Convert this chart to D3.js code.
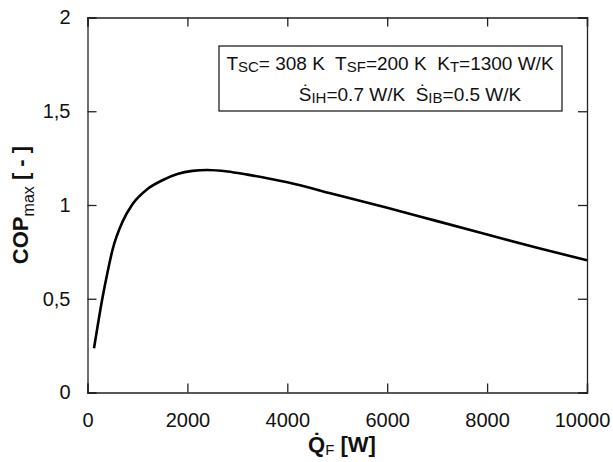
<!DOCTYPE html>
<html><head><meta charset="utf-8">
<script src="https://cdn.jsdelivr.net/npm/d3@7"></script>
<style>html,body{margin:0;padding:0;background:#fff;}svg{display:block;font-family:"Liberation Sans",Arial,sans-serif;}</style>
</head><body>
<script>
const heatLoad = [130, 200, 300, 400, 500, 700, 900, 1200, 1500, 1800, 2100, 2400, 2800, 3200, 3600, 4000, 5000, 6000, 7000, 8000, 9000, 10000];
const copMax   = [0.236, 0.35, 0.505, 0.64, 0.76, 0.91, 1.004, 1.085, 1.132, 1.165, 1.182, 1.187, 1.179, 1.162, 1.143, 1.121, 1.053, 0.985, 0.914, 0.843, 0.772, 0.705];
const xTicks = [0, 2000, 4000, 6000, 8000, 10000];
const yTicks = [0, 0.5, 1, 1.5, 2];
const yTickLabels = ["0", "0,5", "1", "1,5", "2"];

const W = 613, H = 462;
const m = {left: 87.5, right: 26, top: 17.5, bottom: 69.5};
const svg = d3.select("body").append("svg").attr("width", W).attr("height", H);
const x = d3.scaleLinear().domain([0, 10000]).range([m.left, W - m.right]);
const y = d3.scaleLinear().domain([0, 2]).range([H - m.bottom, m.top]);
const TL = 9;

const gx = svg.append("g").attr("transform", `translate(0,${y(0)})`)
  .call(d3.axisBottom(x).tickValues(xTicks).tickSize(-TL).tickPadding(TL + 11).tickFormat(d3.format("d")));
const gxt = svg.append("g").attr("transform", `translate(0,${y(2)})`)
  .call(d3.axisTop(x).tickValues(xTicks).tickSize(-TL).tickFormat(""));
const gy = svg.append("g").attr("transform", `translate(${x(0)},0)`)
  .call(d3.axisLeft(y).tickValues(yTicks).tickSize(-TL).tickPadding(TL + 8).tickFormat((d, i) => yTickLabels[i]));
const gyr = svg.append("g").attr("transform", `translate(${x(10000)},0)`)
  .call(d3.axisRight(y).tickValues(yTicks).tickSize(-TL).tickFormat(""));
[gx, gxt, gy, gyr].forEach(g => {
  g.select(".domain").attr("stroke", "#222").attr("stroke-width", 1.3);
  g.selectAll(".tick line").attr("stroke", "#222").attr("stroke-width", 1.3);
  g.selectAll("text").attr("font-size", 20).attr("fill", "#111").attr("font-family", "Liberation Sans, Arial, sans-serif");
});
gx.selectAll(".tick text").attr("dy", "0.71em").filter(d => d === 10000).attr("dx", -5);

svg.append("path")
  .datum(heatLoad.map((q, i) => [q, copMax[i]]))
  .attr("fill", "none").attr("stroke", "#000").attr("stroke-width", 2.6)
  .attr("d", d3.line().x(d => x(d[0])).y(d => y(d[1])).curve(d3.curveMonotoneX));

svg.append("rect").attr("x", 219).attr("y", 46).attr("width", 343).attr("height", 65)
  .attr("fill", "#fff").attr("stroke", "#222").attr("stroke-width", 1.3);

function richText(xPos, yPos, parts) {
  const t = svg.append("text").attr("x", xPos).attr("y", yPos).attr("text-anchor", "middle")
    .attr("font-size", 19).attr("fill", "#111").style("white-space", "pre");
  parts.forEach(([s, k], i) => {
    const ts = t.append("tspan").text(s);
    if (k === "sub") ts.attr("font-size", 15).attr("dy", 2);
    else if (i > 0 && parts[i-1][1] === "sub") ts.attr("dy", -2);
  });
  return t;
}
richText(390, 70, [["T",""],["SC","sub"],["= 308 K  T",""],["SF","sub"],["=200 K  K",""],["T","sub"],["=1300 W/K",""]]);
richText(410, 101, [["\u1E60",""],["IH","sub"],["=0.7 W/K  \u1E60",""],["IB","sub"],["=0.5 W/K",""]]);

const yl = svg.append("text").attr("transform", `translate(28,${(y(0) + y(2)) / 2}) rotate(-90)`)
  .attr("text-anchor", "middle").attr("font-size", 22).attr("font-weight", "bold").attr("fill", "#111").style("white-space", "pre");
yl.append("tspan").text("COP");
yl.append("tspan").text("max").attr("font-size", 16).attr("font-weight", "normal").attr("dy", 6);
yl.append("tspan").text(" [ - ]").attr("dy", -6);

const xl = svg.append("text").attr("x", 342).attr("y", 452).attr("text-anchor", "middle")
  .attr("font-size", 22).attr("font-weight", "bold").attr("fill", "#111").style("white-space", "pre");
xl.append("tspan").text("Q\u0307");
xl.append("tspan").text("F").attr("font-size", 15).attr("font-weight", "normal").attr("dy", 3);
xl.append("tspan").text(" [W]").attr("dy", -3);
</script>
</body></html>
